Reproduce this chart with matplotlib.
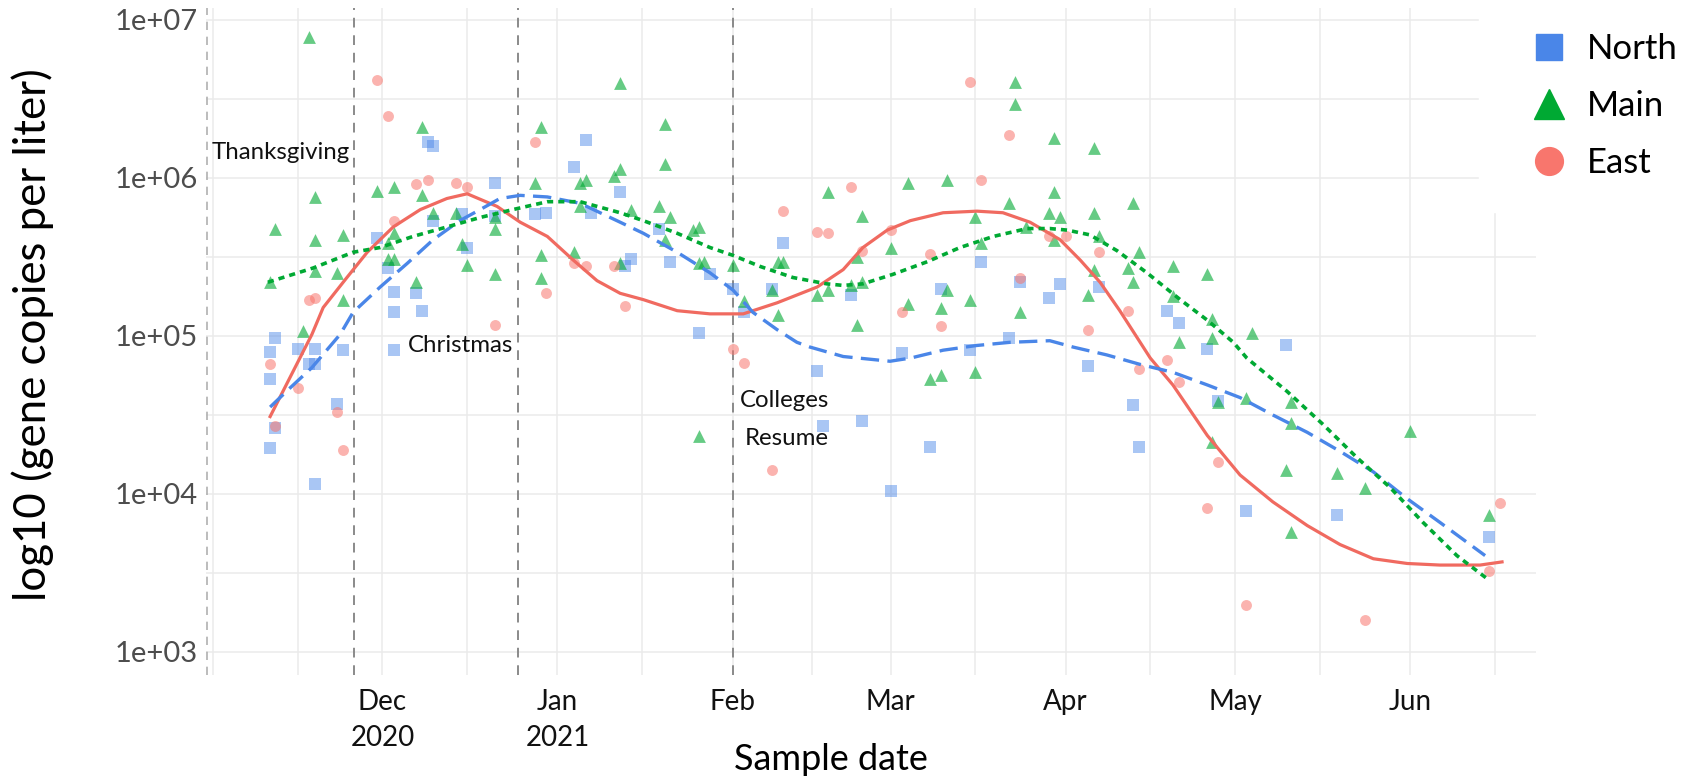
import matplotlib.pyplot as plt
import numpy as np
from matplotlib.lines import Line2D
from matplotlib.ticker import FixedFormatter, FixedLocator, NullFormatter

START = np.datetime64("2020-11-01")

# sample day = days since 2020-11-01, value = log10 gene copies per liter
north_day = [38, 39, 39, 44, 45, 50, 50, 29, 31, 32,
             36, 32, 37, 66, 64, 57, 59, 67, 72, 11,
             10, 15, 18, 23, 17, 18, 10, 22, 11, 10,
             18, 32, 74, 73, 79, 81, 88, 92, 94, 86,
             101, 99, 113, 129, 136, 143, 148, 141, 107, 108,
             115, 127, 120, 122, 134, 150, 157, 169, 171, 155,
             176, 190, 163, 164, 178, 183, 199, 226]
north_log = [6.23, 6.20, 5.73, 5.77, 5.56, 5.97, 5.76, 5.62, 5.43, 5.28,
             5.27, 5.15, 5.16, 6.24, 6.07, 5.77, 5.78, 5.78, 5.91, 4.99,
             4.90, 4.92, 4.92, 4.91, 4.82, 4.82, 4.73, 4.57, 4.42, 4.29,
             4.06, 4.91, 5.49, 5.44, 5.68, 5.47, 5.39, 5.30, 5.15, 5.02,
             5.59, 5.30, 5.26, 5.30, 5.47, 5.34, 5.24, 4.99, 4.78, 4.43,
             4.46, 4.30, 4.02, 4.89, 4.91, 5.33, 5.31, 5.16, 5.08, 4.81,
             4.92, 4.94, 4.56, 4.30, 4.59, 3.89, 3.87, 3.73]

main_day = [17, 18, 11, 18, 23, 10, 18, 22, 23, 16,
            29, 32, 37, 37, 39, 32, 31, 31, 32, 36,
            43, 44, 45, 50, 50, 50, 57, 58, 58, 58,
            65, 66, 65, 64, 72, 71, 72, 74, 72, 80,
            80, 79, 81, 80, 85, 86, 86, 87, 92, 94,
            100, 101, 100, 107, 109, 109, 115, 113, 115, 114,
            114, 120, 123, 123, 129, 130, 130, 134, 135, 136,
            142, 142, 141, 143, 144, 148, 99, 86, 127, 129,
            135, 149, 156, 149, 150, 156, 163, 149, 157, 164,
            156, 162, 163, 155, 170, 176, 170, 177, 177, 184,
            171, 178, 183, 191, 191, 177, 190, 199, 204, 191,
            212, 226]
main_log = [6.89, 5.88, 5.68, 5.61, 5.64, 5.34, 5.41, 5.40, 5.23, 5.03,
            5.92, 5.94, 6.32, 5.89, 5.78, 5.65, 5.59, 5.49, 5.49, 5.34,
            5.78, 5.58, 5.45, 5.75, 5.68, 5.39, 5.97, 6.32, 5.51, 5.37,
            5.97, 5.99, 5.82, 5.53, 6.60, 6.01, 6.06, 5.80, 5.46, 6.34,
            6.09, 5.82, 5.75, 5.61, 5.67, 5.69, 5.46, 5.47, 5.45, 5.22,
            5.47, 5.47, 5.13, 5.26, 5.29, 5.91, 5.76, 5.32, 5.34, 5.07,
            5.50, 5.56, 5.97, 5.20, 5.18, 5.99, 5.29, 5.23, 5.75, 5.59,
            6.61, 6.47, 5.84, 5.15, 5.69, 5.78, 5.29, 4.37, 4.73, 4.75,
            4.77, 6.25, 6.19, 5.91, 5.75, 5.78, 5.84, 5.61, 5.63, 5.53,
            5.42, 5.43, 5.34, 5.26, 5.44, 5.39, 5.25, 5.11, 4.99, 5.02,
            4.96, 4.58, 4.61, 4.58, 4.45, 4.33, 4.15, 4.13, 4.04, 3.76,
            4.40, 3.87]

east_day = [29, 31, 36, 38, 43, 45, 32, 17, 18, 50,
            57, 59, 64, 66, 71, 10, 15, 22, 11, 23,
            73, 101, 107, 109, 113, 115, 120, 127, 122, 129,
            134, 136, 141, 143, 148, 92, 94, 99, 151, 157,
            162, 155, 164, 169, 171, 178, 176, 183, 204, 228,
            226]
east_log = [6.62, 6.39, 5.96, 5.99, 5.97, 5.94, 5.73, 5.23, 5.24, 5.07,
            6.23, 5.27, 5.46, 5.44, 5.44, 4.82, 4.67, 4.52, 4.43, 4.28,
            5.19, 5.79, 5.66, 5.65, 5.94, 5.54, 5.67, 5.52, 5.15, 5.06,
            6.61, 5.99, 6.27, 5.37, 5.63, 4.92, 4.83, 4.15, 5.63, 5.53,
            5.16, 5.04, 4.79, 4.85, 4.71, 4.20, 3.91, 3.30, 3.20, 3.94,
            3.51]

# smoothed trends
north_fit_day = [10.1, 13.6, 17.5, 22.5, 24.8, 29.6, 34.4, 39.0, 43.7, 47.3,
                 50.8, 54.4, 59.2, 65.0, 72.1, 76.2, 82.2, 88.0, 92.1, 95.6,
                 99.9, 103.4, 105.7, 111.6, 119.9, 123.5, 129.3, 135.3, 141.2, 148.2,
                 152.3, 158.3, 164.2, 170.0, 176.1, 181.9, 187.7, 193.8, 199.6, 205.5,
                 211.5, 217.3, 225.3]
north_fit_log = [4.55, 4.67, 4.80, 5.01, 5.15, 5.31, 5.46, 5.61, 5.73, 5.80,
                 5.87, 5.89, 5.88, 5.84, 5.72, 5.65, 5.53, 5.40, 5.29, 5.15,
                 5.04, 4.96, 4.93, 4.87, 4.84, 4.86, 4.91, 4.94, 4.96, 4.97,
                 4.93, 4.88, 4.82, 4.77, 4.69, 4.61, 4.50, 4.39, 4.27, 4.14,
                 3.97, 3.82, 3.61]

main_fit_day = [9.7, 17.7, 24.8, 29.6, 35.4, 41.4, 47.3, 53.1, 59.2, 65.0,
                72.1, 76.2, 82.2, 88.0, 92.1, 96.9, 102.7, 108.7, 111.6, 115.1,
                120.4, 126.5, 132.3, 138.2, 144.2, 148.2, 151.3, 155.3, 160.1, 165.4,
                171.3, 176.1, 180.7, 183.1, 190.2, 196.6, 202.6, 208.5, 214.3, 220.3,
                225.8]
main_fit_log = [5.34, 5.43, 5.53, 5.56, 5.63, 5.69, 5.75, 5.80, 5.85, 5.85,
                5.78, 5.73, 5.65, 5.56, 5.51, 5.44, 5.37, 5.33, 5.32, 5.33,
                5.39, 5.47, 5.56, 5.63, 5.68, 5.68, 5.67, 5.64, 5.54, 5.40,
                5.23, 5.10, 4.96, 4.86, 4.65, 4.44, 4.23, 4.04, 3.82, 3.61,
                3.46]

east_fit_day = [10.1, 17.5, 19.5, 23.7, 27.3, 31.9, 36.7, 41.4, 45.0, 50.3,
                54.4, 59.2, 63.8, 68.0, 72.1, 76.2, 82.2, 88.0, 93.9, 99.9,
                107.0, 111.6, 115.1, 119.4, 123.5, 129.3, 135.3, 139.9, 144.7, 150.0,
                153.6, 157.1, 160.6, 166.0, 170.0, 176.1, 181.9, 187.7, 193.8, 199.6,
                205.5, 211.5, 217.3, 224.4, 228.3]
east_fit_log = [4.49, 5.01, 5.18, 5.37, 5.53, 5.69, 5.80, 5.87, 5.90, 5.82,
                5.72, 5.63, 5.48, 5.35, 5.27, 5.23, 5.16, 5.14, 5.14, 5.21,
                5.31, 5.42, 5.56, 5.67, 5.73, 5.78, 5.79, 5.78, 5.72, 5.61,
                5.48, 5.34, 5.16, 4.86, 4.69, 4.37, 4.12, 3.95, 3.80, 3.68,
                3.59, 3.56, 3.55, 3.55, 3.57]

month_dates = ["2020-11-01", "2020-12-01", "2021-01-01", "2021-02-01",
               "2021-03-01", "2021-04-01", "2021-05-01", "2021-06-01"]
month_labels = ["", "Dec\n2020", "Jan\n2021", "Feb", "Mar", "Apr", "May", "Jun"]
mid_month_dates = ["2020-11-16", "2020-12-16", "2021-01-16", "2021-02-15",
                   "2021-03-16", "2021-04-16", "2021-05-16", "2021-06-16"]

event_dates = ["2020-10-31", "2020-11-26", "2020-12-25", "2021-02-01"]

y_ticks = [1e3, 1e4, 1e5, 1e6, 1e7]
y_labels = ["1e+03", "1e+04", "1e+05", "1e+06", "1e+07"]


def day_offset(dates):
    return (np.array(dates, dtype="datetime64[D]") - START).astype(float)


plt.rcParams["font.family"] = ["Lato", "DejaVu Sans"]

fig = plt.figure(figsize=(16.88, 7.83), dpi=100)
ax = fig.add_axes([0.1219, 0.1379, 0.788, 0.8519])

c_north, c_main, c_east = "#4a86e8", "#00a933", "#f8766d"

ax.scatter(north_day, 10 ** np.array(north_log), marker="s", s=64,
           color=c_north, alpha=0.47, linewidths=0, zorder=2)
ax.scatter(main_day, 10 ** np.array(main_log), marker="^", s=85,
           color=c_main, alpha=0.6, linewidths=0, zorder=2)
ax.scatter(east_day, 10 ** np.array(east_log), marker="o", s=62,
           color=c_east, alpha=0.55, linewidths=0, zorder=2)

ax.plot(east_fit_day, 10 ** np.array(east_fit_log), color="#f06a60", lw=2.3, zorder=3)
ax.plot(north_fit_day, 10 ** np.array(north_fit_log), color="#4a86e8", lw=2.4,
        dashes=(5.5, 2.5), zorder=3)
ax.plot(main_fit_day, 10 ** np.array(main_fit_log), color="#00a933", lw=2.6,
        dashes=(1.7, 1.4), zorder=3)

for i, x in enumerate(day_offset(event_dates)):
    ax.axvline(x, color="#b0b0b0" if i == 0 else "#8a8a8a", lw=1.2 if i == 0 else 1.4,
               dashes=(5, 4), zorder=1)

ax.text(24.3, 10 ** 6.16, "Thanksgiving", ha="right", va="center", fontsize=17.3, color="#111111")
ax.text(53.1, 10 ** 4.94, "Christmas", ha="right", va="center", fontsize=17.3, color="#111111")
ax.text(93.3, 10 ** 4.59, "Colleges", ha="left", va="center", fontsize=17.3, color="#111111")
ax.text(94.2, 10 ** 4.35, "Resume", ha="left", va="center", fontsize=17.3, color="#111111")

ax.set_yscale("log")
ax.set_ylim(10 ** 2.854, 10 ** 7.076)
ax.set_xlim(-1.3, 234.3)

ax.yaxis.set_major_locator(FixedLocator(y_ticks))
ax.yaxis.set_major_formatter(FixedFormatter(y_labels))
ax.yaxis.set_minor_locator(FixedLocator([10 ** 3.5, 10 ** 4.5, 10 ** 5.5, 10 ** 6.5]))
ax.yaxis.set_minor_formatter(NullFormatter())

ax.xaxis.set_major_locator(FixedLocator(day_offset(month_dates)))
ax.xaxis.set_major_formatter(FixedFormatter(month_labels))
ax.xaxis.set_minor_locator(FixedLocator(day_offset(mid_month_dates)))

ax.grid(which="both", color="#ebebeb", lw=1.1)
ax.set_axisbelow(True)
for spine in ax.spines.values():
    spine.set_visible(False)
ax.tick_params(which="both", length=0)
ax.tick_params(axis="y", labelsize=21, labelcolor="#4d4d4d", pad=6)
ax.tick_params(axis="x", labelsize=20, labelcolor="#111111", pad=10)
for lab in ax.get_xticklabels():
    lab.set_linespacing(1.5)

ax.set_ylabel("log10 (gene copies per liter)", fontsize=31.5, va="center")
ax.yaxis.set_label_coords(-0.13, 0.51)
ax.set_xlabel("Sample date", fontsize=26, va="center")
ax.xaxis.set_label_coords(0.47, -0.127)

handles = [
    Line2D([], [], marker="s", color=c_north, linestyle="none", markersize=19),
    Line2D([], [], marker="^", color=c_main, linestyle="none", markersize=21),
    Line2D([], [], marker="o", color=c_east, linestyle="none", markersize=20),
]
fig.legend(handles, ["North", "Main", "East"], loc="upper left",
           bbox_to_anchor=(1479 / 1688, 1.0), borderaxespad=0, fontsize=25,
           frameon=True, facecolor="white", edgecolor="white", framealpha=1,
           borderpad=0.95, handlelength=2.15, handletextpad=0.0, labelspacing=0.72)

fig.savefig("out.png", dpi=100)
